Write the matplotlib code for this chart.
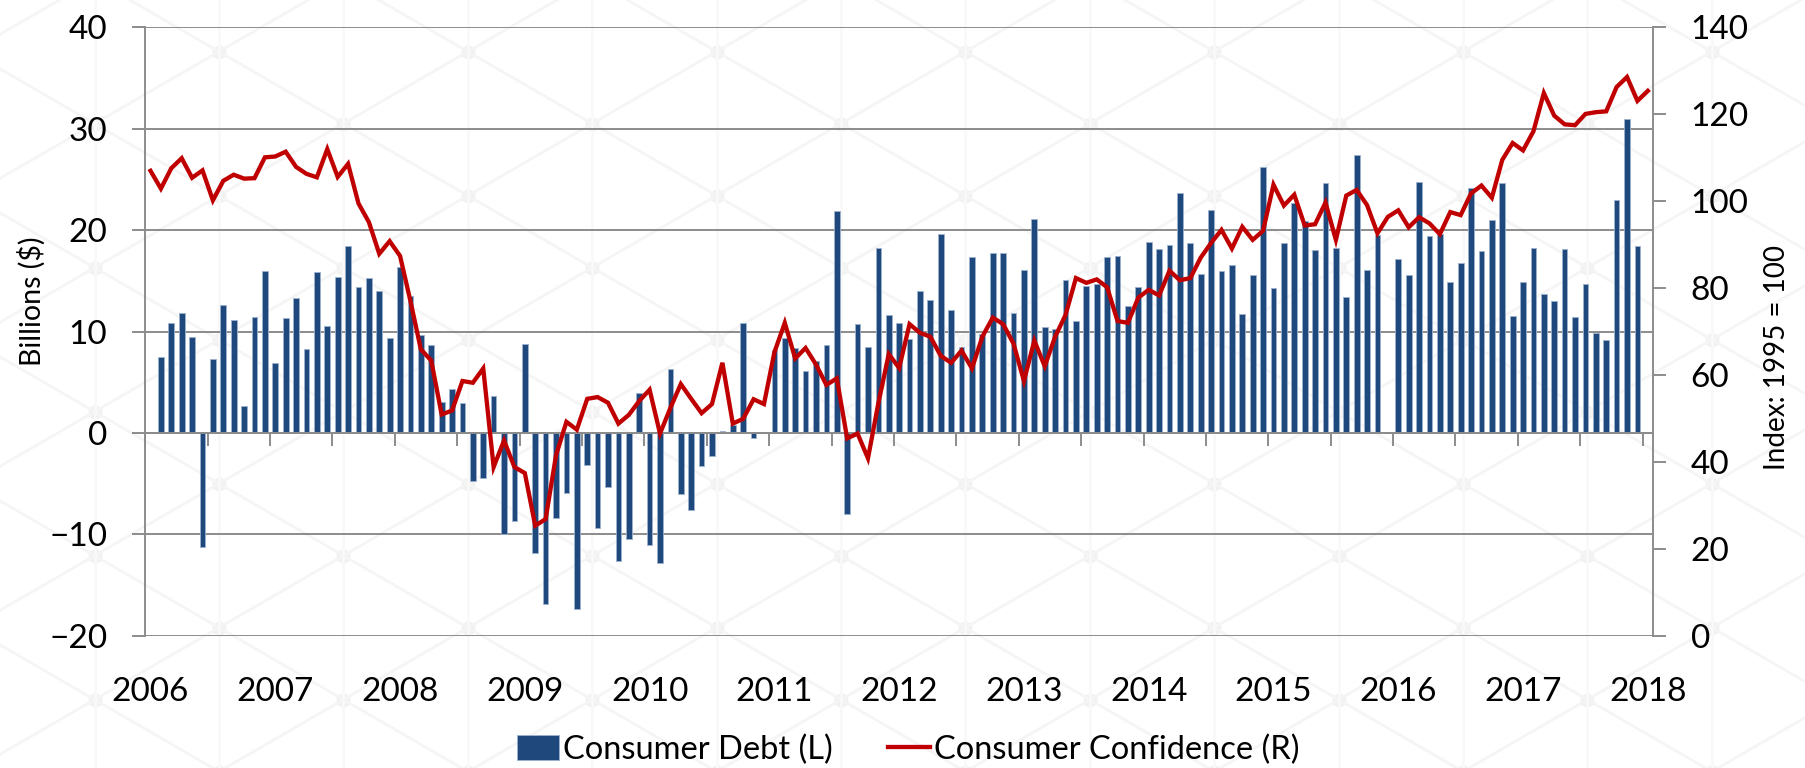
import numpy as np
import pandas as pd
import matplotlib
matplotlib.use("Agg")
import matplotlib.pyplot as plt

plt.rcParams["font.family"] = ["Lato", "DejaVu Sans"]

# monthly data, Jan 2006 .. Jan 2018
months = pd.date_range("2006-01-01", "2018-01-01", freq="MS")

# consumer credit change, billions $ (Feb 2006 .. Dec 2017, nan = no bar)
debt = [
    np.nan, 7.5, 10.8, 11.85, 9.5, -11.3, 7.3, 12.6, 11.1, 2.6, 11.4, 16.0,
    6.9, 11.3, 13.3, 8.3, 15.9, 10.5, 15.4, 18.4, 14.4, 15.3, 14.0, 9.4,
    16.4, 13.5, 9.7, 8.7, 3.0, 4.3, 2.9, -4.8, -4.5, 3.6, -10.0, -8.7,
    8.8, -11.9, -16.9, -8.4, -5.9, -17.4, -3.2, -9.4, -5.3, -12.6, -10.5, 3.9,
    -11.1, -12.8, 6.3, -6.0, -7.6, -3.3, -2.3, 0.2, 0.8, 10.8, -0.5, np.nan,
    8.2, 9.4, 8.4, 6.1, 7.1, 8.7, 21.9, -8.0, 10.7, 8.5, 18.2, 11.6,
    10.8, 9.3, 14.0, 13.1, 19.6, 12.1, 8.5, 17.4, 9.8, 17.7, 17.7, 11.8,
    16.1, 21.1, 10.4, 10.2, 15.1, 11.0, 14.5, 14.7, 17.4, 17.5, 12.5, 14.4,
    18.8, 18.1, 18.5, 23.7, 18.7, 15.7, 22.0, 16.0, 16.6, 11.7, 15.6, 26.2,
    14.3, 18.7, 22.7, 20.9, 18.0, 24.7, 18.2, 13.4, 27.4, 16.1, 19.5, np.nan,
    17.2, 15.6, 24.8, 19.4, 19.6, 14.9, 16.8, 24.2, 17.9, 21.0, 24.7, 11.5,
    14.9, 18.2, 13.7, 13.0, 18.1, 11.4, 14.7, 9.9, 9.2, 23.0, 31.0, 18.4,
]

# consumer confidence index, 1995 = 100
confidence = [
    107.0, 102.9, 107.6, 109.9, 105.4, 107.1, 100.2, 104.7, 106.1, 105.2, 105.3, 110.1,
    110.3, 111.4, 107.9, 106.3, 105.5, 112.0, 105.6, 108.6, 99.5, 95.2, 87.9, 90.8,
    87.4, 77.0, 65.9, 63.3, 50.9, 51.8, 58.6, 58.2, 61.5, 38.8, 44.9, 38.8,
    37.4, 25.3, 26.8, 41.5, 49.2, 47.4, 54.5, 54.9, 53.6, 48.8, 50.8, 54.0,
    56.6, 46.5, 52.4, 57.9, 54.5, 51.2, 53.3, 62.8, 48.8, 49.9, 54.4, 53.3,
    65.2, 72.0, 63.8, 66.2, 62.4, 57.7, 59.2, 45.4, 46.5, 40.8, 53.5, 64.8,
    61.6, 71.7, 69.7, 68.8, 64.4, 62.8, 65.6, 61.5, 68.8, 73.2, 71.7, 67.2,
    58.6, 67.9, 62.0, 68.8, 73.8, 82.3, 81.2, 82.0, 80.2, 72.4, 72.0, 77.8,
    79.6, 78.3, 84.0, 81.8, 82.3, 87.0, 90.4, 93.4, 89.1, 94.1, 91.1, 93.2,
    103.8, 99.0, 101.5, 94.4, 94.7, 99.7, 91.1, 101.3, 102.6, 99.1, 92.6, 96.4,
    97.9, 94.0, 96.3, 94.9, 92.4, 97.5, 96.8, 101.8, 103.6, 100.8, 109.5, 113.4,
    111.7, 116.1, 124.9, 119.7, 117.7, 117.5, 120.1, 120.5, 120.7, 126.3, 128.6, 123.1,
    125.4,
]

left_ticks = [-20, -10, 0, 10, 20, 30, 40]
right_ticks = [0, 20, 40, 60, 80, 100, 120, 140]

GREY = "#8c8c8c"
BLUE = "#1f497d"
RED = "#c00000"
W, H = 1805, 768

pos = np.arange(len(months))

fig = plt.figure(figsize=(W / 100, H / 100), dpi=100)

# faint lattice watermark behind everything (pixel coordinates)
bg = fig.add_axes([0, 0, 1, 1], zorder=-1)
bg.set_xlim(0, W)
bg.set_ylim(H, 0)
bg.axis("off")
dx, dy = 124.4, 144.0
x0, y0 = 219.0, 51.6
slope = (dy / 2) / dx
xs = np.array([0, W])
for n in range(-12, 14):
    for sgn in (1, -1):
        bg.plot(xs, y0 + n * dy + sgn * slope * (xs - x0), color="#f5f5f5", lw=2)
cols = x0 + dx * np.arange(-2, 14)
for k, cx in enumerate(cols):
    bg.axvline(cx, color="#f9f9f9", lw=2)
    cy = y0 + dy * np.arange(-1, 7) + (dy / 2 if k % 2 else 0)
    bg.scatter(np.full(len(cy), cx), cy, s=130, marker="h", color="#f1f1f1",
               linewidths=0)

ax = fig.add_axes([0.0805, 0.1725, 0.8353, 0.7917])
ax.patch.set_alpha(0)

ax.bar(pos[:len(debt)], debt, width=0.55, color=BLUE, edgecolor="#9db2cf",
       linewidth=0.6, label="Consumer Debt (L)", zorder=2)

ax.set_xlim(-0.5, len(months) - 0.5)
ax.set_ylim(left_ticks[0], left_ticks[-1])
ax.set_yticks(left_ticks)
ax.yaxis.grid(True, color=GREY, linewidth=1.4)
ax.set_axisbelow(True)

for side in ["top", "right"]:
    ax.spines[side].set_visible(False)
ax.spines["left"].set_color(GREY)
ax.spines["left"].set_linewidth(1.4)
# horizontal axis crosses at zero, ticks every half year
ax.spines["bottom"].set_position(("data", 0))
ax.spines["bottom"].set_color(GREY)
ax.spines["bottom"].set_linewidth(1.4)
ax.set_xticks(np.arange(-0.5, len(months), 6))
ax.set_xticklabels([])
ax.tick_params(axis="x", direction="out", length=9, width=1.4, color=GREY)
ax.tick_params(axis="y", direction="out", length=9.4, width=1.4, color=GREY,
               pad=18, labelsize=24)

# year labels below the plot
jan = [i for i, m in enumerate(months) if m.month == 1]
secx = ax.secondary_xaxis(0)
secx.set_xticks(jan)
secx.set_xticklabels([str(months[i].year) for i in jan])
secx.tick_params(length=0, pad=30, labelsize=24)
secx.spines["bottom"].set_visible(False)

ax2 = ax.twinx()
ax2.patch.set_alpha(0)
ax2.plot(pos, confidence, color=RED, linewidth=3.1, label="Consumer Confidence (R)",
         solid_joinstyle="miter", zorder=3)
ax2.set_ylim(right_ticks[0], right_ticks[-1])
ax2.set_yticks(right_ticks)
for side in ["top", "left", "bottom"]:
    ax2.spines[side].set_visible(False)
ax2.spines["right"].set_color(GREY)
ax2.spines["right"].set_linewidth(1.4)
ax2.tick_params(axis="y", direction="out", length=9, width=1.4, color=GREY,
                pad=18, labelsize=24)

fig.text(32 / W, 1 - 301 / H, "Billions ($)", rotation=90, ha="center",
         va="center", fontsize=20.5)
fig.text(1777 / W, 1 - 358 / H, "Index: 1995 = 100", rotation=90,
         ha="center", va="center", fontsize=20)

h1, l1 = ax.get_legend_handles_labels()
h2, l2 = ax2.get_legend_handles_labels()
fig.legend(h1 + h2, l1 + l2, loc="center", bbox_to_anchor=(908 / W, 1 - 750 / H),
           ncol=2, frameon=False, fontsize=23.5, handlelength=1.3, handleheight=0.8,
           handletextpad=0.1, columnspacing=1.7)

fig.savefig("out.png", dpi=100)
